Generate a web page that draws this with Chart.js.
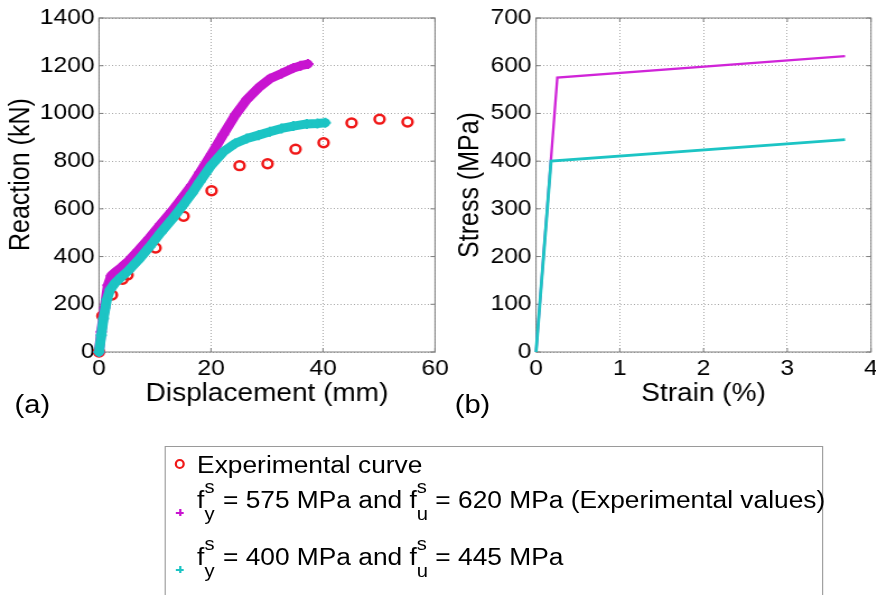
<!DOCTYPE html>
<html>
<head>
<meta charset="utf-8">
<script src="https://cdn.jsdelivr.net/npm/chart.js@4/dist/chart.umd.min.js"></script>
<style>
  html, body { margin: 0; padding: 0; background: #fff; overflow: hidden; }
  body { width: 876px; height: 595px; position: relative; font-family: "Liberation Sans", Arial, sans-serif; color: #000; }
  /* the reference is stretched sideways, so everything is laid out narrow and scaled */
  #wrap { position: absolute; left: 0; top: 0; width: 782px; height: 595px; transform: scaleX(1.12); transform-origin: 0 0; }
  canvas { position: absolute; top: 0; }
  #chartA { left: 0; }
  #chartB { left: 400px; }
  .panel { position: absolute; top: 391px; font-size: 26px; line-height: 26px; }
  #legend { position: absolute; left: 147px; top: 446px; width: 588px; height: 170px; border: 1px solid #9a9a9a; box-sizing: border-box; }
  .row { position: absolute; left: 28px; font-size: 23.5px; line-height: 24px; white-space: nowrap; }
  .st { position: relative; display: inline-block; width: 10px; height: 0; }
  .st span { position: absolute; left: 0; font-size: 18px; line-height: 18px; }
  .st .sp { bottom: 12px; }
  .st .sb { bottom: -15px; }
  .circ { position: absolute; left: 8px; top: 12px; width: 9px; height: 10px; box-sizing: border-box; border: 2.3px solid #f01818; border-radius: 50%; }
  .cross { position: absolute; width: 7px; height: 7px; }
  .cross::before, .cross::after { content: ""; position: absolute; background: currentColor; }
  .cross::before { left: 0; top: 2.5px; width: 7px; height: 2px; }
  .cross::after { left: 2.5px; top: 0; width: 2px; height: 7px; }
</style>
</head>
<body>
<div id="wrap">
  <canvas id="chartA" width="420" height="420"></canvas>
  <canvas id="chartB" width="390" height="420"></canvas>
  <div class="panel" style="left:13px">(a)</div>
  <div class="panel" style="left:406px">(b)</div>
  <div id="legend">
    <div class="circ"></div>
    <div class="row" style="top:6px">Experimental curve</div>
    <div class="cross" style="left:9px; top:62px; color:#c814d0"></div>
    <div class="row" style="top:41px">f<span class="st"><span class="sp">s</span><span class="sb">y</span></span> = 575 MPa and f<span class="st"><span class="sp">s</span><span class="sb">u</span></span> = 620 MPa (Experimental values)</div>
    <div class="cross" style="left:9px; top:119px; color:#1cc4c4"></div>
    <div class="row" style="top:98px">f<span class="st"><span class="sp">s</span><span class="sb">y</span></span> = 400 MPa and f<span class="st"><span class="sp">s</span><span class="sb">u</span></span> = 445 MPa</div>
  </div>
</div>
<script>
// (a) reaction vs displacement
const dispExp = [0, 0.6, 2.3, 4.2, 5.1, 10.1, 15.1, 20.1, 25.1, 30.1, 35.1, 40.1, 45.1, 50.1, 55.1];
const reacExp = [0, 151, 239, 305, 323, 436, 569, 676, 781, 789, 850, 877, 960, 976, 964];

// fy = 575 / fu = 620
const dispHigh = [0, 0.4, 1.0, 1.6, 2.2, 2.9, 4.0, 5.2, 7.0, 9.0, 11.0, 13.0, 15.0, 16.6, 18.0, 20.1, 22.2, 24.3, 26.4, 28.5, 30.5, 32.6, 34.7, 36.0, 37.3];
const reacHigh = [0, 85, 185, 280, 320, 335, 355, 380, 425, 478, 535, 590, 650, 700, 752, 830, 912, 992, 1058, 1108, 1145, 1167, 1190, 1200, 1207];

// fy = 400 / fu = 445
const dispLow = [0, 0.4, 0.8, 1.4, 2.0, 2.9, 4.0, 5.2, 7.0, 9.0, 11.0, 13.0, 15.0, 16.6, 18.0, 20.1, 22.2, 24.3, 26.4, 28.5, 30.5, 32.6, 34.7, 37.1, 39.0, 40.4];
const reacLow = [0, 70, 140, 220, 262, 290, 315, 340, 385, 440, 500, 555, 615, 665, 714, 784, 839, 874, 895, 909, 923, 937, 947, 956, 958, 961];

// (b) steel laws
const strainHigh = [0, 0.254, 3.69];
const stressHigh = [0, 575, 620];
const strainLow = [0, 0.179, 3.69];
const stressLow = [0, 400, 445];

const dispTicks = [0, 20, 40, 60];
const reacTicks = [0, 200, 400, 600, 800, 1000, 1200, 1400];
const strainTicks = [0, 1, 2, 3, 4];
const stressTicks = [0, 100, 200, 300, 400, 500, 600, 700];

const RED = "#f01818";
const MAGENTA = "#c814d0";
const CYAN = "#1cc4c4";
const FONT = "Liberation Sans";

const pts = (xs, ys) => xs.map((x, i) => ({ x, y: ys[i] }));

// box round the plot + short inward ticks, like the matlab axes
const frame = {
    id: "frame",
    beforeDatasetsDraw(chart) {
        const { ctx, chartArea: a, scales: { x, y } } = chart;
        ctx.save();
        ctx.strokeStyle = "#7c7c7c";
        ctx.lineWidth = 1;
        ctx.strokeRect(a.left, a.top, a.right - a.left, a.bottom - a.top);
        ctx.beginPath();
        for (const t of x.ticks) {
            const px = x.getPixelForValue(t.value);
            ctx.moveTo(px, a.bottom); ctx.lineTo(px, a.bottom - 4);
            ctx.moveTo(px, a.top); ctx.lineTo(px, a.top + 4);
        }
        for (const t of y.ticks) {
            const py = y.getPixelForValue(t.value);
            ctx.moveTo(a.left, py); ctx.lineTo(a.left + 4, py);
            ctx.moveTo(a.right, py); ctx.lineTo(a.right - 4, py);
        }
        ctx.stroke();
        ctx.restore();
    }
};

function xAxis(title, tickList) {
    return {
        type: "linear",
        min: tickList[0],
        max: tickList[tickList.length - 1],
        afterBuildTicks: s => { s.ticks = tickList.map(v => ({ value: v })); },
        afterFit: s => { s.height = 57; },
        grid: { color: "#a8a8a8", drawTicks: false },
        border: { display: false, dash: [1, 2] },
        ticks: { font: { family: FONT, size: 22 }, color: "#000", padding: 4, maxRotation: 0, autoSkip: false, callback: v => String(v) },
        title: { display: true, text: title, font: { family: FONT, size: 25 }, color: "#000", padding: { top: 0, bottom: 0 } }
    };
}

function yAxis(title, tickList, width, titlePad) {
    return {
        type: "linear",
        min: tickList[0],
        max: tickList[tickList.length - 1],
        afterBuildTicks: s => { s.ticks = tickList.map(v => ({ value: v })); },
        afterFit: s => { s.width = width; },
        grid: { color: "#a8a8a8", drawTicks: false },
        border: { display: false, dash: [1, 2] },
        ticks: { font: { family: FONT, size: 22 }, color: "#000", padding: 4, autoSkip: false, callback: v => String(v) },
        title: { display: true, text: title, font: { family: FONT, size: 25 }, color: "#000", padding: { top: titlePad, bottom: 0 } }
    };
}

const common = {
    responsive: false,
    animation: false,
    devicePixelRatio: 1,
    plugins: { legend: { display: false }, tooltip: { enabled: false } },
    events: []
};

new Chart(document.getElementById("chartA"), {
    type: "scatter",
    data: {
        datasets: [
            {
                data: pts(dispLow, reacLow),
                showLine: true,
                borderColor: CYAN,
                borderWidth: 9,
                borderCapStyle: "round",
                borderJoinStyle: "round",
                pointStyle: "cross",
                pointRadius: 5,
                pointBorderWidth: 2,
                pointBorderColor: CYAN,
                clip: false
            },
            {
                data: pts(dispHigh, reacHigh),
                showLine: true,
                borderColor: MAGENTA,
                borderWidth: 9,
                borderCapStyle: "round",
                borderJoinStyle: "round",
                pointStyle: "cross",
                pointRadius: 5,
                pointBorderWidth: 2,
                pointBorderColor: MAGENTA,
                clip: false
            },
            {
                data: pts(dispExp, reacExp),
                showLine: false,
                pointStyle: "circle",
                pointRadius: 4.4,
                pointBorderWidth: 2.5,
                pointBorderColor: RED,
                pointBackgroundColor: "rgba(0,0,0,0)",
                clip: false
            }
        ]
    },
    options: {
        ...common,
        layout: { padding: { left: 0, top: 18, right: 31.6, bottom: 11 } },
        scales: {
            x: xAxis("Displacement (mm)", dispTicks),
            y: yAxis("   Reaction (kN)", reacTicks, 88.4, 4.6)
        }
    },
    plugins: [frame]
});

new Chart(document.getElementById("chartB"), {
    type: "scatter",
    data: {
        datasets: [
            {
                data: pts(strainLow, stressLow),
                showLine: true,
                borderColor: CYAN,
                borderWidth: 2.8,
                pointRadius: 0,
                clip: false
            },
            {
                data: pts(strainHigh, stressHigh),
                showLine: true,
                borderColor: "#d024d8",
                borderWidth: 2.3,
                pointRadius: 0,
                clip: false
            }
        ]
    },
    options: {
        ...common,
        layout: { padding: { left: 0, top: 18, right: 12.3, bottom: 11 } },
        scales: {
            x: xAxis("Strain (%)", strainTicks),
            y: yAxis("Stress (MPa)", stressTicks, 78.6, 5.5)
        }
    },
    plugins: [frame]
});
</script>
</body>
</html>
